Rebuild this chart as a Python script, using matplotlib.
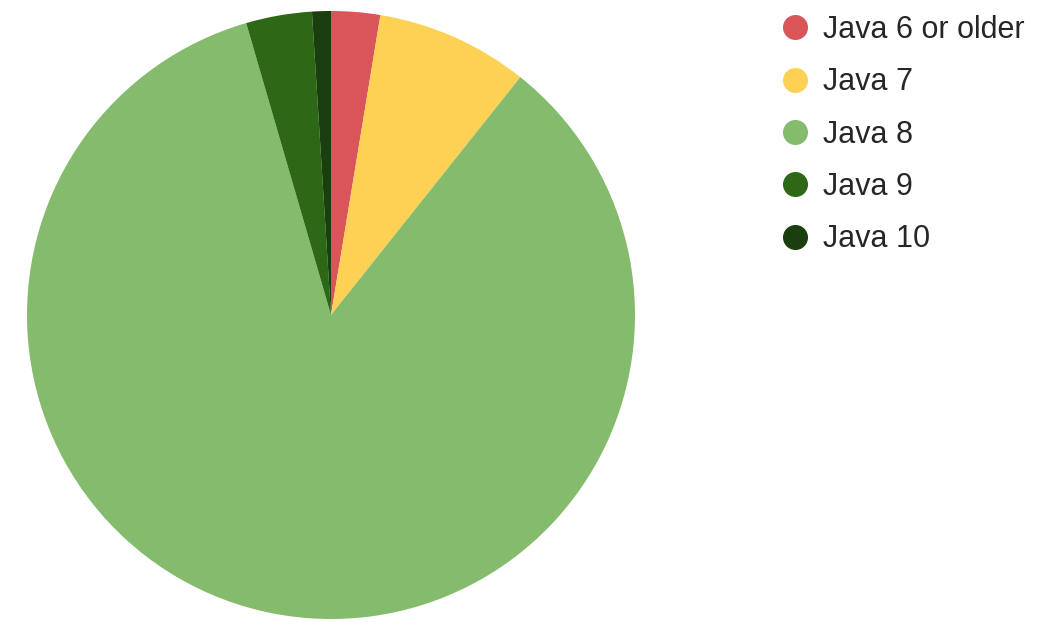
import matplotlib.pyplot as plt
from matplotlib.lines import Line2D

labels = ["Java 6 or older", "Java 7", "Java 8", "Java 9", "Java 10"]
shares = [2.6, 8.1, 84.8, 3.5, 1.0]
colors = ["#DA5559", "#FCD154", "#84BB6C", "#2D6816", "#1A3E0E"]

plt.rcParams["font.family"] = ["Liberation Sans", "DejaVu Sans"]

fig = plt.figure(figsize=(10.6, 6.4), dpi=100)
ax = fig.add_axes([27 / 1060, 21 / 640, 608 / 1060, 608 / 640])

# clockwise from 12 o'clock
ax.pie(shares, colors=colors, startangle=90, counterclock=False,
       wedgeprops=dict(linewidth=0))
ax.set_xlim(-1, 1)
ax.set_ylim(-1, 1)
ax.set_aspect("equal")
ax.axis("off")

handles = [Line2D([], [], marker="o", linestyle="none", markersize=17,
                  markerfacecolor=c, markeredgecolor=c) for c in colors]
fig.legend(handles, labels, loc="upper left",
           bbox_to_anchor=(781 / 1060, 1 - 15 / 640),
           frameon=False, fontsize=22, handlelength=0.92, handletextpad=0.45,
           labelspacing=0.73, borderpad=0, borderaxespad=0,
           labelcolor="#262626")

fig.savefig("out.png", dpi=100, facecolor="white")
